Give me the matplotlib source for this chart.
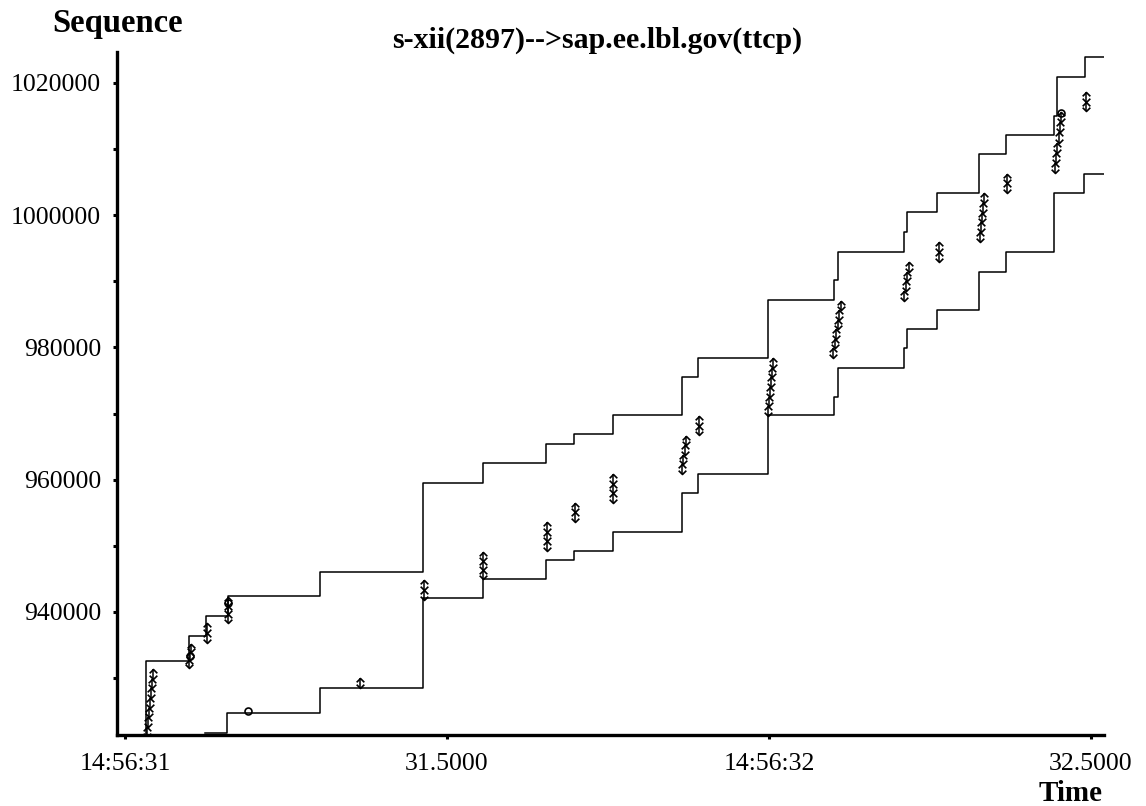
import matplotlib
matplotlib.use("Agg")
import matplotlib.pyplot as plt
from matplotlib.path import Path

plt.rcParams["font.family"] = ["Liberation Serif", "DejaVu Serif"]

TITLE = "s-xii(2897)-->sap.ee.lbl.gov(ttcp)"

# time axis in seconds past 14:56:00
x_ticks = [31.0, 31.5, 32.0, 32.5]
x_tick_labels = ["14:56:31", "31.5000", "14:56:32", "32.5000"]
y_major = [940000, 960000, 980000, 1000000, 1020000]
y_minor = [930000, 950000, 970000, 990000, 1010000]

# advertised window edge (upper staircase)
win_t = [31.0326, 31.0326, 31.0994, 31.1258, 31.1599, 31.3028, 31.4627,
         31.5559, 31.6537, 31.6972, 31.7578, 31.8649, 31.8898, 31.9984,
         32.1009, 32.1071, 32.2096, 32.2143, 32.2609, 32.3261, 32.3680,
         32.4425, 32.4472, 32.4907, 32.5233]
win_seq = [921400, 932590, 936370, 939400, 942420, 946050, 959500,
           962520, 965400, 966910, 969780, 975520, 978400, 987170,
           990190, 994420, 997450, 1000470, 1003340, 1009240, 1012110,
           1014980, 1020880, 1023900, 1023900]

# ack line (lower staircase)
ack_t = [31.1243, 31.1584, 31.3028, 31.4627, 31.5559, 31.6537, 31.6972,
         31.7578, 31.8649, 31.8898, 31.9984, 32.1009, 32.1071, 32.2096,
         32.2143, 32.2609, 32.3261, 32.3680, 32.4425, 32.4891, 32.5233]
ack_seq = [921710, 924730, 928510, 942120, 944990, 947860, 949220,
           952090, 957990, 960860, 969780, 972500, 976890, 979910,
           982780, 985650, 991400, 994420, 1003340, 1006210, 1006210]

# data segments: send time, first and last sequence number
pkt_time = [
    31.0342, 31.0356, 31.0372, 31.0387, 31.0403, 31.0419, 31.0435,
    31.0994, 31.1010, 31.1025,
    31.1273, 31.1273,
    31.1599, 31.1599, 31.1599,
    31.3649,
    31.4643, 31.4643,
    31.5559, 31.5559, 31.5559,
    31.6553, 31.6553, 31.6553,
    31.6988, 31.6988,
    31.7578, 31.7578, 31.7578,
    31.8649, 31.8670, 31.8690, 31.8711,
    31.8913, 31.8913,
    31.9984, 32.0000, 32.0015, 32.0031, 32.0046, 32.0062,
    32.0994, 32.1019, 32.1044, 32.1068, 32.1093, 32.1118,
    32.2096, 32.2122, 32.2148, 32.2174,
    32.2640, 32.2640,
    32.3276, 32.3292, 32.3307, 32.3323, 32.3339,
    32.3696, 32.3696,
    32.4441, 32.4460, 32.4478, 32.4497, 32.4515, 32.4534,
    32.4922, 32.4922,
]
pkt_lo = [
    921160, 922620, 924080, 925540, 927000, 928460, 929920,
    931540, 932750, 933960,
    935310, 936820,
    938340, 939650, 940960,
    928510,
    941810, 943320,
    944990, 946350, 947710,
    949220, 950680, 952140,
    953600, 955040,
    956480, 957940, 959400,
    960860, 962300, 963740, 965170,
    966760, 968190,
    969630, 971090, 972550, 974010, 975470, 976930,
    978400, 979840, 981280, 982720, 984160, 985600,
    987010, 988480, 989960, 991430,
    992910, 994420,
    995930, 997410, 998890, 1000370, 1001860,
    1003340, 1004780,
    1006360, 1007900, 1009440, 1010970, 1012510, 1014050,
    1015740, 1017170,
]
pkt_hi = [
    922620, 924080, 925540, 927000, 928460, 929920, 931380,
    932750, 933960, 935160,
    936820, 938340,
    939650, 940960, 942270,
    930020,
    943320, 944840,
    946350, 947710, 949070,
    950680, 952140, 953600,
    955040, 956480,
    957940, 959400, 960860,
    962300, 963740, 965170, 966610,
    968190, 969630,
    971090, 972550, 974010, 975470, 976930, 978400,
    979840, 981280, 982720, 984160, 985600, 987010,
    988480, 989960, 991430, 992910,
    994420, 995930,
    997410, 998890, 1000370, 1001860, 1003340,
    1004780, 1006210,
    1007900, 1009440, 1010970, 1012510, 1014050, 1015590,
    1017170, 1018610,
]

# small circle marks (sack / window probe)
mark_t = [31.1010, 31.1599, 31.1910, 32.4534]
mark_seq = [933300, 941400, 925030, 1015500]

up_head = Path([(-1, -1), (0, 0), (1, -1)], [Path.MOVETO, Path.LINETO, Path.LINETO])
down_head = Path([(-1, 1), (0, 0), (1, 1)], [Path.MOVETO, Path.LINETO, Path.LINETO])

fig = plt.figure(figsize=(11.46, 8.06), dpi=100)
ax = fig.add_axes([0.1021, 0.0881, 0.8613, 0.8474])

ax.plot(win_t, win_seq, drawstyle="steps-post", color="black", lw=1.1)
ax.plot(ack_t, ack_seq, drawstyle="steps-post", color="black", lw=1.1)

ax.vlines(pkt_time, pkt_lo, pkt_hi, color="black", lw=1.1)
ax.plot(pkt_time, pkt_hi, ls="none", color="black", marker=up_head, ms=5.5,
        mfc="none", mec="black", mew=1.2)
ax.plot(pkt_time, pkt_lo, ls="none", color="black", marker=down_head, ms=5.5,
        mfc="none", mec="black", mew=1.2)
ax.plot(mark_t, mark_seq, ls="none", color="black", marker="o", ms=5,
        mfc="none", mec="black", mew=1.2)

ax.set_xlim(30.9876, 32.5202)
ax.set_ylim(921406, 1024655)

ax.spines["top"].set_visible(False)
ax.spines["right"].set_visible(False)
ax.spines["left"].set_linewidth(2.4)
ax.spines["bottom"].set_linewidth(2.4)

ax.set_xticks(x_ticks)
ax.set_xticklabels(x_tick_labels)
ax.set_yticks(y_major)
ax.set_yticklabels([str(v) for v in y_major])
ax.set_yticks(y_minor, minor=True)
ax.tick_params(axis="both", which="both", direction="out", length=3,
               width=2.2, labelsize=18.5, color="black")
ax.tick_params(axis="x", pad=10)
ax.tick_params(axis="y", pad=8.5)

fig.text(0.103, 0.971, "Sequence", ha="center", va="center",
         fontsize=23.5, fontweight="bold")
fig.text(0.521, 0.950, TITLE, ha="center", va="center",
         fontsize=21.5, fontweight="bold")
fig.text(0.934, 0.006, "Time", ha="center", va="baseline",
         fontsize=21, fontweight="bold")

fig.savefig("out.png", dpi=100)
plt.close(fig)
